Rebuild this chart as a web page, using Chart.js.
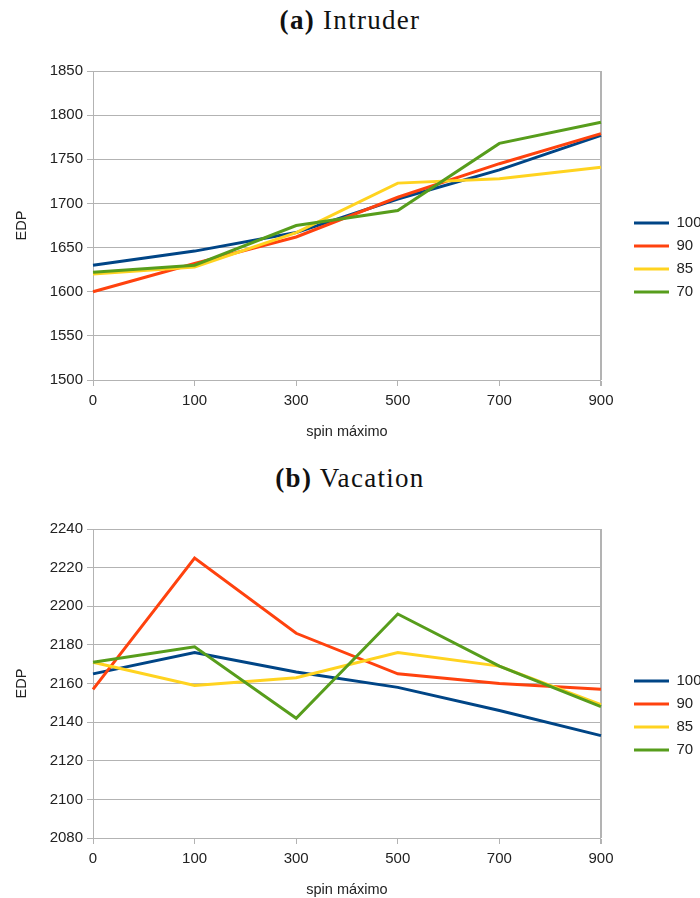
<!DOCTYPE html>
<html>
<head>
<meta charset="utf-8">
<script src="https://cdn.jsdelivr.net/npm/chart.js@4/dist/chart.umd.min.js"></script>
<style>
  html, body { margin: 0; padding: 0; background: #fff; }
  body { width: 700px; height: 898px; position: relative; overflow: hidden; }
  .title {
    position: absolute; left: 0; width: 700px; height: 40px; line-height: 40px;
    text-align: center; font-family: "Liberation Serif", serif; font-size: 27px;
    letter-spacing: 1.3px; color: #111;
  }
  .panel { position: absolute; left: 0; width: 700px; height: 400px; }
</style>
</head>
<body>
<div class="title" style="top:0px"><b>(a)</b> Intruder</div>
<div class="panel" style="top:50px"><canvas id="intruder" width="700" height="400"></canvas></div>
<div class="title" style="top:458px"><b>(b)</b> Vacation</div>
<div class="panel" style="top:508px"><canvas id="vacation" width="700" height="400"></canvas></div>

<script>
const spinLabels = ['0', '100', '300', '500', '700', '900']
const seriesNames = ['100', '90', '85', '70']
const seriesColors = ['#004586', '#ff420e', '#ffd320', '#579d1c']

// (a) Intruder
const intruder100 = [1630, 1646, 1667, 1705, 1738, 1777]
const intruder90 = [1600, 1632, 1662, 1707, 1745, 1779]
const intruder85 = [1620, 1628, 1667, 1723, 1728, 1741]
const intruder70 = [1622, 1630, 1675, 1692, 1768, 1792]
const intruderTicks = [1500, 1550, 1600, 1650, 1700, 1750, 1800, 1850]

// (b) Vacation
const vacation100 = [2165, 2176, 2166, 2158, 2146, 2133]
const vacation90 = [2157, 2225, 2186, 2165, 2160, 2157]
const vacation85 = [2171, 2159, 2163, 2176, 2169, 2149]
const vacation70 = [2171, 2179, 2142, 2196, 2169, 2148]
const vacationTicks = [2080, 2100, 2120, 2140, 2160, 2180, 2200, 2220, 2240]

Chart.defaults.font.family = '"Liberation Sans", Arial, sans-serif'
Chart.defaults.color = '#222'

const gridColor = '#b3b3b3'

// LibreOffice puts the legend further right than Chart.js does
const legendShift = {
  id: 'legendShift',
  afterLayout(chart) {
    const lg = chart.legend
    const dx = 626 - lg.left
    lg.left += dx
    lg.right += dx
    lg.top += 1
    lg.bottom += 1
  }
}

function buildChart(id, series, ticks) {
  const ctx = document.getElementById(id).getContext('2d')
  const last = spinLabels.length - 1
  return new Chart(ctx, {
    type: 'line',
    data: {
      labels: spinLabels,
      datasets: series.map((values, i) => ({
        label: seriesNames[i],
        data: values,
        borderColor: seriesColors[i],
        backgroundColor: seriesColors[i],
        borderWidth: 3,
        pointRadius: 0,
        tension: 0,
        order: series.length - i
      }))
    },
    options: {
      responsive: false,
      animation: false,
      layout: { padding: { top: 21, right: 13.5, bottom: 8, left: 0 } },
      scales: {
        x: {
          grid: {
            color: c => c.index === last ? gridColor : 'rgba(0,0,0,0)',
            lineWidth: c => c.index === last ? 2 : 1,
            tickColor: gridColor,
            tickLength: 6
          },
          border: { color: gridColor },
          ticks: { font: { size: 15 }, padding: 6, maxRotation: 0 },
          title: {
            display: true, text: 'spin máximo',
            font: { size: 14.5 }, padding: { top: 0, bottom: 1 }
          },
          afterFit: s => { s.height = 62 }
        },
        y: {
          min: ticks[0],
          max: ticks[ticks.length - 1],
          afterBuildTicks: s => { s.ticks = ticks.map(v => ({ value: v })) },
          grid: { color: gridColor, tickLength: 6 },
          border: { color: gridColor },
          ticks: { font: { size: 15 }, padding: 4, callback: v => String(v) },
          title: {
            display: true, text: 'EDP',
            font: { size: 14.5 }, padding: { top: 13, bottom: 0 }
          },
          afterFit: s => { s.width = 93 }
        }
      },
      plugins: {
        legend: {
          position: 'right',
          labels: {
            usePointStyle: true,
            pointStyle: 'line',
            pointStyleWidth: 35,
            font: { size: 15 },
            padding: 8,
            sort: (a, b) => a.datasetIndex - b.datasetIndex
          }
        },
        tooltip: { enabled: false }
      }
    },
    plugins: [legendShift]
  })
}

buildChart('intruder', [intruder100, intruder90, intruder85, intruder70], intruderTicks)
buildChart('vacation', [vacation100, vacation90, vacation85, vacation70], vacationTicks)
</script>
</body>
</html>
